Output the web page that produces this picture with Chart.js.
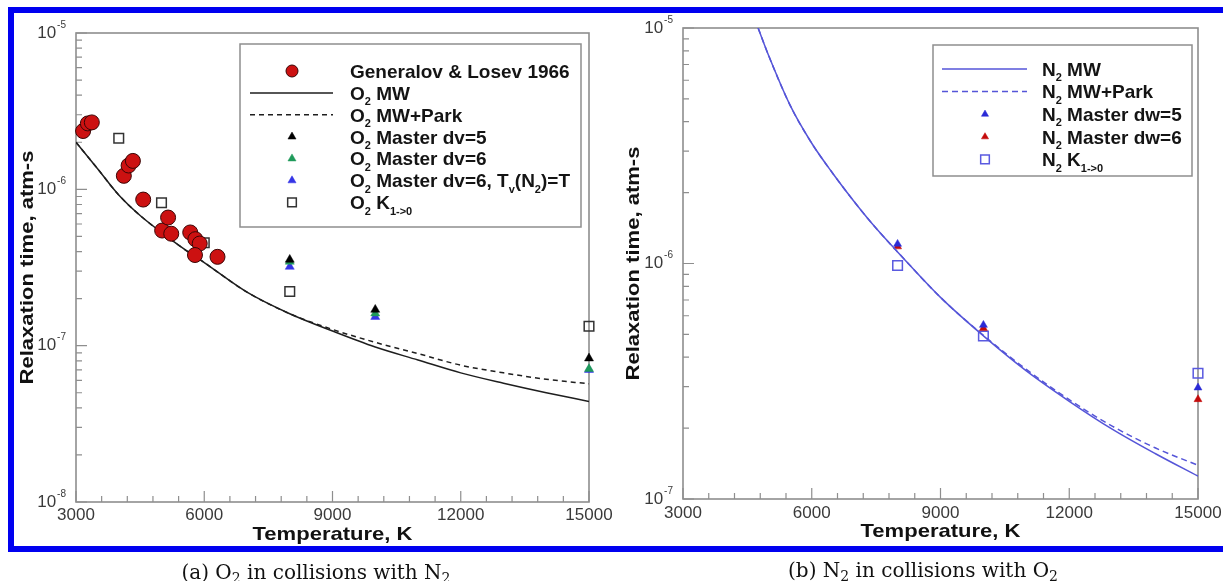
<!DOCTYPE html>
<html>
<head>
<meta charset="utf-8">
<script src="https://cdn.jsdelivr.net/npm/chart.js@4.4.1/dist/chart.umd.min.js"></script>
<style>
  html, body { margin: 0; padding: 0; background: #fff; }
  body { width: 1223px; height: 581px; position: relative; overflow: hidden; }
  #frame { position: absolute; left: 8px; top: 7px; width: 1300px; height: 533px;
           border: 6px solid #0000f0; border-right: none; }
  canvas { position: absolute; left: 0; top: 0; }
  .cap { position: absolute; font-family: "DejaVu Serif", "Liberation Serif", serif; font-size: 20px;
         color: #111; white-space: nowrap; transform: translate(-50%, -50%); }
  .cap sub { font-size: 14px; vertical-align: -4px; line-height: 0; }
</style>
</head>
<body>
<div id="frame"></div>
<canvas id="chartO2" width="1223" height="581"></canvas>
<canvas id="chartN2" width="1223" height="581"></canvas>
<div class="cap" style="left:316px; top:572px">(a) O<sub>2</sub> in collisions with N<sub>2</sub></div>
<div class="cap" style="left:923px; top:570px">(b) N<sub>2</sub> in collisions with O<sub>2</sub></div>

<script>
// оси
const tickT = [3000, 6000, 9000, 12000, 15000];
const tickTLabels = ["3000", "6000", "9000", "12000", "15000"];
const o2Decades = [1e-8, 1e-7, 1e-6, 1e-5];
const o2DecadeExp = ["-8", "-7", "-6", "-5"];
const n2Decades = [1e-7, 1e-6, 1e-5];
const n2DecadeExp = ["-7", "-6", "-5"];

// (a) O2 + N2
const glTemp = [3166, 3277, 3370, 4119, 4230, 4331, 4572, 5015, 5154, 5228, 5672, 5792, 5894, 5783, 6310];
const glTau = [2.36e-6, 2.64e-6, 2.68e-6, 1.22e-6, 1.42e-6, 1.52e-6, 8.6e-7, 5.45e-7, 6.6e-7, 5.2e-7, 5.3e-7, 4.8e-7, 4.5e-7, 3.8e-7, 3.7e-7];

const o2CurveT = [3000, 3500, 4000, 4500, 5000, 5500, 6000, 7000, 8000, 9000, 10000, 11000, 12000, 13000, 14000, 15000];
const o2MwTau = [2.0e-6, 1.36e-6, 9.2e-7, 6.8e-7, 5.3e-7, 4.2e-7, 3.4e-7, 2.2e-7, 1.6e-7, 1.24e-7, 9.8e-8, 8.1e-8, 6.7e-8, 5.75e-8, 5.0e-8, 4.4e-8];
const o2ParkTau = [2.0e-6, 1.36e-6, 9.2e-7, 6.8e-7, 5.3e-7, 4.2e-7, 3.4e-7, 2.2e-7, 1.6e-7, 1.27e-7, 1.05e-7, 8.9e-8, 7.5e-8, 6.7e-8, 6.1e-8, 5.7e-8];

const masterT = [8000, 10000, 15000];
const o2Dv5Tau = [3.55e-7, 1.70e-7, 8.3e-8];
const o2Dv6Tau = [3.45e-7, 1.61e-7, 7.1e-8];
const o2Dv6TvTau = [3.2e-7, 1.53e-7, 7.0e-8];

const o2K10T = [4000, 5000, 6000, 8000, 15000];
const o2K10Tau = [2.12e-6, 8.2e-7, 4.55e-7, 2.22e-7, 1.33e-7];

// (b) N2 + O2
const n2CurveT = [4750, 5000, 5500, 6000, 6500, 7000, 7500, 8000, 9000, 10000, 11000, 12000, 13000, 14000, 15000];
const n2MwTau = [1.0e-5, 7.6e-6, 4.68e-6, 3.24e-6, 2.40e-6, 1.82e-6, 1.41e-6, 1.12e-6, 7.18e-7, 4.93e-7, 3.5e-7, 2.6e-7, 1.98e-7, 1.56e-7, 1.25e-7];
const n2ParkTau = [1.0e-5, 7.6e-6, 4.68e-6, 3.24e-6, 2.40e-6, 1.82e-6, 1.41e-6, 1.12e-6, 7.18e-7, 4.95e-7, 3.55e-7, 2.64e-7, 2.04e-7, 1.65e-7, 1.39e-7];
const n2Dw5Tau = [1.21e-6, 5.48e-7, 2.97e-7];
const n2Dw6Tau = [1.18e-6, 5.31e-7, 2.65e-7];
const n2K10Tau = [9.8e-7, 4.92e-7, 3.42e-7];

const pairs = (xs, ys) => xs.map((x, i) => ({ x, y: ys[i] }));

const SANS = '"Liberation Sans", Arial, Helvetica, sans-serif';

// "O_2 K_{1->0}" -> куски с нижними индексами
function parseRich(s) {
  const segs = [];
  let buf = "";
  for (let i = 0; i < s.length; i++) {
    if (s[i] === "_") {
      if (buf) { segs.push({ t: buf, sub: false }); buf = ""; }
      if (s[i + 1] === "{") {
        const j = s.indexOf("}", i);
        segs.push({ t: s.slice(i + 2, j), sub: true });
        i = j;
      } else {
        segs.push({ t: s[i + 1], sub: true });
        i++;
      }
    } else buf += s[i];
  }
  if (buf) segs.push({ t: buf, sub: false });
  return segs;
}

function drawRich(ctx, s, x, baseY, size) {
  ctx.textAlign = "left";
  ctx.textBaseline = "alphabetic";
  for (const seg of parseRich(s)) {
    if (seg.sub) {
      ctx.font = `bold ${Math.round(size * 0.6)}px ${SANS}`;
      ctx.fillText(seg.t, x, baseY + size * 0.28);
    } else {
      ctx.font = `bold ${size}px ${SANS}`;
      ctx.fillText(seg.t, x, baseY);
    }
    x += ctx.measureText(seg.t).width;
  }
}

function drawMarker(ctx, ds, cx, cy, scale) {
  const r = (ds.pointRadius || 3) * scale;
  ctx.save();
  ctx.fillStyle = ds.pointBackgroundColor || ds.backgroundColor;
  ctx.strokeStyle = ds.pointBorderColor || ds.borderColor;
  ctx.lineWidth = ds.pointBorderWidth ?? ds.borderWidth ?? 1;
  ctx.beginPath();
  if (ds.pointStyle === "triangle") {
    ctx.moveTo(cx, cy - r);
    ctx.lineTo(cx + r * 0.866, cy + r / 2);
    ctx.lineTo(cx - r * 0.866, cy + r / 2);
    ctx.closePath();
  } else if (ds.pointStyle === "rect") {
    const h = r * Math.SQRT1_2;
    ctx.rect(cx - h, cy - h, 2 * h, 2 * h);
  } else {
    ctx.arc(cx, cy, r, 0, Math.PI * 2);
  }
  ctx.fill();
  ctx.stroke();
  ctx.restore();
}

// растянутый по ширине жирный заголовок оси (как в Tecplot)
function drawTitle(ctx, text, cx, cy, rot) {
  ctx.save();
  ctx.translate(cx, cy);
  if (rot) ctx.rotate(-Math.PI / 2);
  ctx.scale(1.16, 1);
  ctx.font = `bold 19px ${SANS}`;
  ctx.textAlign = "center";
  ctx.textBaseline = "middle";
  ctx.fillText(text, 0, 0);
  ctx.restore();
}

// рамка, засечки внутрь, подписи, легенда
const paperAxes = {
  id: "paperAxes",
  beforeDatasetsDraw(chart, args, o) {
    const { ctx, chartArea: a, scales: { x, y } } = chart;
    ctx.save();
    ctx.strokeStyle = o.axisColor;
    ctx.lineWidth = 1.6;
    ctx.strokeRect(a.left, a.top, a.right - a.left, a.bottom - a.top);
    ctx.lineWidth = 1.2;
    ctx.beginPath();
    for (let v = x.min; v <= x.max; v += o.xMinorStep) {
      const px = x.getPixelForValue(v);
      const len = o.xMajor.includes(v) ? 11 : 6;
      ctx.moveTo(px, a.bottom);
      ctx.lineTo(px, a.bottom - len);
    }
    for (const d of o.yDecades) {
      for (let m = 1; m <= 9; m++) {
        const v = m * d;
        if (v > y.max * 1.0001) break;
        const py = y.getPixelForValue(v);
        ctx.moveTo(a.left, py);
        ctx.lineTo(a.left + (m === 1 ? 11 : 6), py);
      }
    }
    ctx.stroke();
    ctx.restore();
  },
  afterDraw(chart, args, o) {
    const { ctx, chartArea: a, scales: { x, y } } = chart;
    ctx.save();
    // подписи оси X
    ctx.fillStyle = o.tickColor;
    ctx.font = `17px ${SANS}`;
    ctx.textAlign = "center";
    ctx.textBaseline = "middle";
    o.xMajor.forEach((v, i) => ctx.fillText(o.xLabels[i], x.getPixelForValue(v), o.xLabelY));
    // подписи оси Y: 10^n
    o.yDecades.forEach((d, i) => {
      const py = y.getPixelForValue(d);
      ctx.font = `17px ${SANS}`;
      const wb = ctx.measureText("10").width;
      ctx.font = `10px ${SANS}`;
      const we = ctx.measureText(o.yExp[i]).width;
      const x0 = a.left - 10 - wb - we - 1;
      ctx.textAlign = "left";
      ctx.font = `17px ${SANS}`;
      ctx.fillText("10", x0, py);
      ctx.font = `10px ${SANS}`;
      ctx.fillText(o.yExp[i], x0 + wb + 1, py - 8);
    });
    // названия осей
    ctx.fillStyle = "#111";
    drawTitle(ctx, o.xTitle, (a.left + a.right) / 2, o.xTitleY, false);
    drawTitle(ctx, o.yTitle, o.yTitleX, (a.top + a.bottom) / 2, true);
    // легенда
    const L = o.legend;
    ctx.fillStyle = "#fff";
    ctx.fillRect(L.x, L.y, L.w, L.h);
    ctx.strokeStyle = o.axisColor;
    ctx.lineWidth = 1.5;
    ctx.strokeRect(L.x, L.y, L.w, L.h);
    chart.data.datasets.forEach((ds, i) => {
      const ry = L.row0 + i * L.rowStep;
      if (ds.showLine) {
        ctx.save();
        ctx.strokeStyle = ds.borderColor;
        ctx.lineWidth = ds.borderWidth;
        ctx.setLineDash(ds.borderDash || []);
        ctx.beginPath();
        ctx.moveTo(L.line0, ry);
        ctx.lineTo(L.line1, ry);
        ctx.stroke();
        ctx.restore();
      } else {
        drawMarker(ctx, ds, L.symX, ry, ds.pointStyle === "circle" ? 0.8 : 0.9);
      }
      ctx.fillStyle = "#141414";
      drawRich(ctx, ds.label, L.textX, ry + 6.8, L.font);
    });
    ctx.restore();
  }
};

const lineSet = (label, xs, ys, color, dash) => ({
  label, data: pairs(xs, ys), showLine: true, pointRadius: 0, borderColor: color,
  borderWidth: 1.5, borderDash: dash, cubicInterpolationMode: "monotone", fill: false
});
const markSet = (label, xs, ys, style, radius, fillC, strokeC, bw) => ({
  label, data: pairs(xs, ys), showLine: false, pointStyle: style, pointRadius: radius,
  backgroundColor: fillC, borderColor: strokeC, pointBackgroundColor: fillC,
  pointBorderColor: strokeC, pointBorderWidth: bw, borderWidth: bw, clip: false
});

function baseOptions(padding, yMin, axesOpts) {
  return {
    responsive: false,
    animation: false,
    devicePixelRatio: 1,
    events: [],
    layout: { padding },
    scales: {
      x: { type: "linear", min: 3000, max: 15000, display: false },
      y: { type: "logarithmic", min: yMin, max: 1e-5, display: false }
    },
    plugins: { legend: { display: false }, tooltip: { enabled: false }, paperAxes: axesOpts }
  };
}

new Chart(document.getElementById("chartO2"), {
  type: "scatter",
  data: {
    datasets: [
      markSet("Generalov & Losev 1966", glTemp, glTau, "circle", 7.5, "#cc1111", "#3a0505", 1),
      lineSet("O_2 MW", o2CurveT, o2MwTau, "#1e1e1e", []),
      lineSet("O_2 MW+Park", o2CurveT, o2ParkTau, "#1e1e1e", [5, 4]),
      markSet("O_2 Master dv=5", masterT, o2Dv5Tau, "triangle", 5.2, "#000", "#000", 0.5),
      markSet("O_2 Master dv=6", masterT, o2Dv6Tau, "triangle", 5.2, "#1f9a5a", "#1f9a5a", 0.5),
      markSet("O_2 Master dv=6, T_v(N_2)=T", masterT, o2Dv6TvTau, "triangle", 5.2, "#3535e6", "#3535e6", 0.5),
      markSet("O_2 K_{1->0}", o2K10T, o2K10Tau, "rect", 6.8, "rgba(0,0,0,0)", "#333", 1.5)
    ]
  },
  options: baseOptions({ left: 76, top: 33, right: 634, bottom: 79 }, 1e-8, {
    axisColor: "#8e8e8e", tickColor: "#3a3a3a",
    xMajor: tickT, xLabels: tickTLabels, xMinorStep: 600, xLabelY: 515,
    yDecades: o2Decades, yExp: o2DecadeExp,
    xTitle: "Temperature, K", xTitleY: 535, yTitle: "Relaxation time, atm-s", yTitleX: 28,
    legend: { x: 240, y: 44, w: 341, h: 183, row0: 71, rowStep: 21.9, symX: 292, line0: 250, line1: 333, textX: 350, font: 19 }
  }),
  plugins: [paperAxes]
});

new Chart(document.getElementById("chartN2"), {
  type: "scatter",
  data: {
    datasets: [
      lineSet("N_2 MW", n2CurveT, n2MwTau, "#5555d8", []),
      lineSet("N_2 MW+Park", n2CurveT, n2ParkTau, "#5555d8", [6, 4]),
      markSet("N_2 Master dw=5", masterT, n2Dw5Tau, "triangle", 4.6, "#2a2ad6", "#2a2ad6", 0.5),
      markSet("N_2 Master dw=6", masterT, n2Dw6Tau, "triangle", 4.6, "#c40a0a", "#c40a0a", 0.5),
      markSet("N_2 K_{1->0}", masterT, n2K10Tau, "rect", 6.8, "rgba(0,0,0,0)", "#5a5ae0", 1.5)
    ]
  },
  options: baseOptions({ left: 683, top: 28, right: 25, bottom: 82 }, 1e-7, {
    axisColor: "#8e8e8e", tickColor: "#3a3a3a",
    xMajor: tickT, xLabels: tickTLabels, xMinorStep: 600, xLabelY: 513,
    yDecades: n2Decades, yExp: n2DecadeExp,
    xTitle: "Temperature, K", xTitleY: 532, yTitle: "Relaxation time, atm-s", yTitleX: 634,
    legend: { x: 933, y: 45, w: 259, h: 131, row0: 69, rowStep: 22.6, symX: 985, line0: 942, line1: 1027, textX: 1042, font: 19 }
  }),
  plugins: [paperAxes]
});
</script>
</body>
</html>
